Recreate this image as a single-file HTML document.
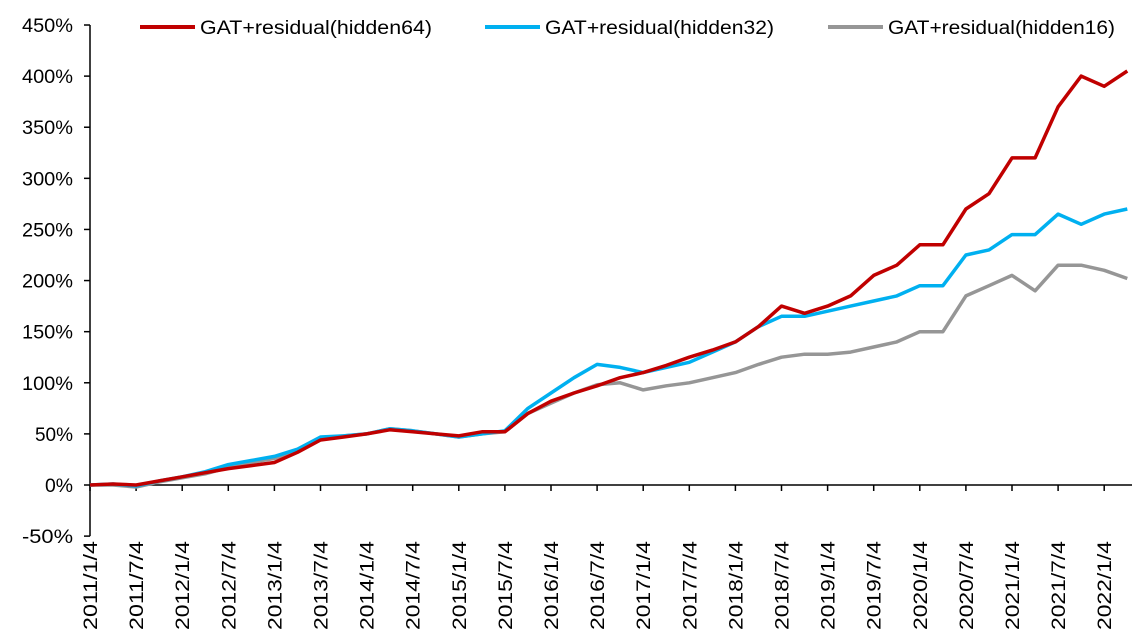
<!DOCTYPE html>
<html><head><meta charset="utf-8"><style>
body{margin:0;background:#fff;}
svg text{font-family:"Liberation Sans",Arial,sans-serif;fill:#000;}
</style></head><body>
<svg id="chart" width="1146" height="636" viewBox="0 0 1146 636" xmlns="http://www.w3.org/2000/svg">
<g id="axes"></g>
<g id="series"></g>
<g id="legend"></g>
</svg>
<script>
// quarterly points from 2011/1 (month index 0, step 3 months)
const monthStep = 3;
const h64 = [0,1,0,4,8,12,16,19,22,32,44,47,50,54,52,50,48,52,52,70,82,90,97,105,110,117,125,132,140,155,175,168,175,185,205,215,235,235,270,285,320,320,370,400,390,405];
const h32 = [0,1,-1,4,8,13,20,24,28,35,47,48,50,55,53,50,47,50,53,75,90,105,118,115,110,115,120,130,140,155,165,165,170,175,180,185,195,195,225,230,245,245,265,255,265,270];
const h16 = [0,0,-2,3,7,11,17,22,26,33,45,48,50,55,53,50,47,50,52,70,80,90,98,100,93,97,100,105,110,118,125,128,128,130,135,140,150,150,185,195,205,190,215,215,210,202];
const yTicks = [-50,0,50,100,150,200,250,300,350,400,450];
const xTickLabels = ["2011/1/4","2011/7/4","2012/1/4","2012/7/4","2013/1/4","2013/7/4","2014/1/4","2014/7/4","2015/1/4","2015/7/4","2016/1/4","2016/7/4","2017/1/4","2017/7/4","2018/1/4","2018/7/4","2019/1/4","2019/7/4","2020/1/4","2020/7/4","2021/1/4","2021/7/4","2022/1/4"];
const seriesNames = ["GAT+residual(hidden64)","GAT+residual(hidden32)","GAT+residual(hidden16)"];

const NS="http://www.w3.org/2000/svg";
const x0=90, pxPerMonth=46.1/6;
const xOf=m=>x0+m*pxPerMonth;
const yOf=v=>485-v*1.0222;
function mk(tag,attrs,parent){const e=document.createElementNS(NS,tag);for(const k in attrs)e.setAttribute(k,attrs[k]);parent.appendChild(e);return e;}
const axes=document.getElementById('axes');
let l=mk('line',{x1:x0,y1:yOf(450),x2:x0,y2:yOf(-50),stroke:'#000','stroke-width':1.5},axes);


l=mk('line',{x1:x0,y1:yOf(0),x2:1132,y2:yOf(0),stroke:'#000','stroke-width':1.5},axes);


yTicks.forEach(v=>{
  const t=mk('line',{x1:x0-6,x2:x0,y1:yOf(v),y2:yOf(v),stroke:'#000','stroke-width':1.5},axes);
  
  
  const tx=mk('text',{x:73,y:yOf(v)+7,'text-anchor':'end','font-size':19,textLength:(String(v).length===2?38:(String(v).length===1?28:51)),lengthAdjust:'spacingAndGlyphs'},axes);
  tx.textContent=v+'%';
  
  
});
xTickLabels.forEach((s,i)=>{
  const x=xOf(i*6);
  const t=mk('line',{x1:x,x2:x,y1:yOf(0),y2:yOf(0)+6,stroke:'#000','stroke-width':1.5},axes);
  
  
  const tx=mk('text',{x:0,y:0,'text-anchor':'end','font-size':19,textLength:89,lengthAdjust:'spacingAndGlyphs',transform:`translate(${x+7},541) rotate(-90)`},axes);
  tx.textContent=s;
  
  
});
const colors=['#c00000','#00b0f0','#969696'];
const sg=document.getElementById('series');
[h16,h32,h64].forEach((arr,k)=>{
  const idx=2-k;
  const d=arr.map((v,i)=>(i?'L':'M')+xOf(i*monthStep).toFixed(1)+','+yOf(v).toFixed(1)).join(' ');
  const p=mk('path',{d:d,fill:'none',stroke:colors[idx],'stroke-width':3.5,'stroke-linejoin':'round'},sg);
  
  
});
const lg=document.getElementById('legend');
const lx=[140,485,828];
const tl=[232,229,227];
seriesNames.forEach((n,i)=>{
  const g=mk('g',{},lg);
  
  
  mk('line',{x1:lx[i],x2:lx[i]+55,y1:27,y2:27,stroke:colors[i],'stroke-width':4},g);
  const t=mk('text',{x:lx[i]+60,y:34,'font-size':19,textLength:tl[i],lengthAdjust:'spacingAndGlyphs'},g);
  t.textContent=n;
});
</script>
</body></html>
